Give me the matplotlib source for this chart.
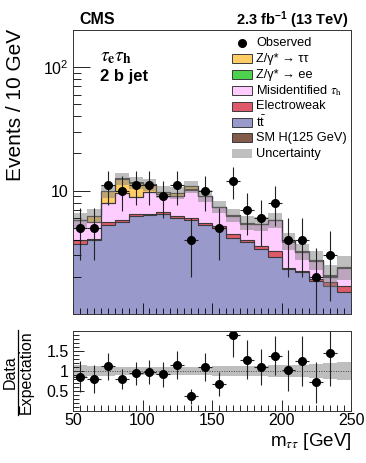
import numpy as np
import matplotlib
matplotlib.use("Agg")
import matplotlib.pyplot as plt
from matplotlib.patches import Rectangle
from matplotlib.lines import Line2D
from matplotlib.ticker import FixedLocator, FixedFormatter, MultipleLocator, NullFormatter, LogLocator

plt.rcParams['font.family'] = ['Liberation Sans', 'DejaVu Sans']
plt.rcParams['mathtext.fontset'] = 'custom'
plt.rcParams['mathtext.rm'] = 'Liberation Sans'
plt.rcParams['mathtext.it'] = 'Liberation Sans:italic'
plt.rcParams['mathtext.bf'] = 'Liberation Sans:bold'

# ---------------- data ----------------
bin_edges = np.arange(50, 251, 10)
observed = [5, 5, 11, 10, 11, 11, 9, 11, 4, 10, 5, 12, 7, 6, 8, 4, 4, 2, 3, 0]
ttbar = [3.72, 3.96, 5.24, 5.58, 6.20, 6.33, 6.44, 6.00, 5.76, 5.24,
         4.95, 4.16, 3.83, 3.39, 2.89, 2.33, 2.18, 1.85, 1.68, 1.51]
electroweak = [0.28, 0.06, 0.34, 0.18, 0.24, 0.19, 0.21, 0.20, 0.18, 0.23,
               0.25, 0.27, 0.13, 0.15, 0.35, 0.04, 0.05, 0.06, 0.12, 0.17]
misid = [1.75, 1.53, 2.28, 3.74, 2.46, 3.26, 2.65, 2.90, 4.26, 3.53,
         2.10, 1.82, 1.44, 1.81, 2.51, 1.48, 0.92, 0.79, 0.20, 0.67]
zee = [0.01, 0.01, 0.02, 0.03, 0.03, 0.02, 0.01, 0.01, 0.01, 0.01,
       0.01, 0.0, 0.0, 0.0, 0.0, 0.0, 0.0, 0.0, 0.0, 0.0]
ztautau = [0.04, 0.69, 1.98, 2.97, 2.67, 1.38, 0.49, 0.49, 0.59, 0.09,
           0.09, 0.05, 0.05, 0.05, 0.05, 0.05, 0.05, 0.05, 0.05, 0.05]
smh = [0.01, 0.01, 0.02, 0.03, 0.03, 0.03, 0.02, 0.02, 0.02, 0.02,
       0.01, 0.01, 0.01, 0.01, 0.01, 0.01, 0.01, 0.01, 0.01, 0.01]
rel_unc = [0.14, 0.13, 0.12, 0.11, 0.11, 0.11, 0.11, 0.11, 0.11, 0.11,
           0.12, 0.12, 0.13, 0.13, 0.14, 0.15, 0.15, 0.17, 0.20, 0.22]

# (legend label, values, colour, use serif math)
components = [
    ("t$\\bar{\\mathrm{t}}$", ttbar, "#9999CC", False),
    ("Electroweak", electroweak, "#DE5A6A", False),
    ("Misidentified $\\tau_{\\mathrm{h}}$", misid, "#FFCCFF", True),
    ("Z/γ* → ee", zee, "#4CD24C", False),
    ("Z/γ* → ττ", ztautau, "#FFCC66", False),
    ("SM H(125 GeV)", smh, "#845A4B", False),
]

# ---------------- figure ----------------
W, H = 366, 463
fig = plt.figure(figsize=(W / 100, H / 100), dpi=100)

def fx(px):
    return px / W

def fy(py):
    return 1 - py / H

def ax_rect(x0, y0, x1, y1):
    return [x0 / W, 1 - y1 / H, (x1 - x0) / W, (y1 - y0) / H]

ax = fig.add_axes(ax_rect(73, 30, 351, 314))
rax = fig.add_axes(ax_rect(73, 331, 351, 411))

edges = bin_edges
centers = 0.5 * (edges[:-1] + edges[1:])
obs = np.array(observed, dtype=float)

ymin = 1.0
floor = ymin * 0.5
cum = np.zeros(len(centers))
for name, vals, col, _ in components:
    top = cum + np.array(vals)
    ax.stairs(np.maximum(top, floor), edges, baseline=np.maximum(cum, floor),
              fill=True, color=col, lw=0)
    cum = top
cum = np.zeros(len(centers))
for name, vals, col, _ in components:
    cum = cum + np.array(vals)
    ax.stairs(cum, edges, baseline=None, color="#3a3a3a", lw=0.8)

total = cum
unc = np.array(rel_unc)
ax.stairs(total * (1 + unc), edges, baseline=total * (1 - unc), fill=True,
          color="#7f7f7f", alpha=0.5, lw=0)

mask = obs > 0
ax.errorbar(centers[mask], obs[mask], yerr=np.sqrt(obs[mask]), xerr=5,
            fmt='o', color='black', ms=5.5, elinewidth=0.8, ecolor='#222222', capsize=0)

ax.set_yscale('log')
ax.set_xlim(50, 250)
ax.set_ylim(ymin, 200)
ax.yaxis.set_major_locator(FixedLocator([10, 100]))
ax.yaxis.set_major_formatter(FixedFormatter(["10", "$10^{2}$"]))
ax.yaxis.set_minor_locator(LogLocator(base=10, subs=np.arange(2, 10)))
ax.yaxis.set_minor_formatter(NullFormatter())
ax.xaxis.set_major_locator(MultipleLocator(50))
ax.xaxis.set_minor_locator(MultipleLocator(5))
ax.tick_params(axis='x', labelbottom=False)
for a in (ax, rax):
    a.tick_params(which='both', direction='in', top=False, right=False, labelsize=11.5, pad=3)
    a.tick_params(axis='x', which='major', length=8, width=0.6)
    a.tick_params(axis='x', which='minor', length=4, width=0.6)
    for s in a.spines.values():
        s.set_linewidth(0.7)
        s.set_color('#333333')
ax.tick_params(axis='y', which='major', length=12, width=0.6)
ax.tick_params(axis='y', which='minor', length=6, width=0.6)

# ratio
ratio = np.where(mask, obs / total, np.nan)
rerr = np.where(mask, np.sqrt(obs) / total, np.nan)
rax.stairs(1 + unc, edges, baseline=1 - unc, fill=True, color="#7f7f7f", alpha=0.5, lw=0)
rax.axhline(1, color='#444444', lw=0.7, ls=(0, (1, 1.5)))
rax.errorbar(centers[mask], ratio[mask], yerr=rerr[mask], xerr=5, fmt='o', color='black',
             ms=5.5, elinewidth=0.8, ecolor='#222222', capsize=0)
rax.set_xlim(50, 250)
rax.set_ylim(0, 2)
rax.xaxis.set_major_locator(MultipleLocator(50))
rax.xaxis.set_minor_locator(MultipleLocator(5))
rax.yaxis.set_major_locator(FixedLocator([0.5, 1, 1.5]))
rax.yaxis.set_major_formatter(FixedFormatter(["0.5", "1", "1.5"]))
rax.yaxis.set_minor_locator(MultipleLocator(0.1))
rax.tick_params(axis='y', which='major', length=8, width=0.6)
rax.tick_params(axis='y', which='minor', length=4, width=0.6)
rax.tick_params(axis='x', pad=1.5)

# texts
fig.text(fx(79), fy(20), "CMS", fontsize=11.5, fontweight='bold', ha='left', va='center')
fig.text(fx(349), fy(20), "2.3 fb$^{\\mathbf{-1}}$ (13 TeV)", fontsize=10.5,
         fontweight='bold', ha='right', va='center')
fig.text(fx(100), fy(57), "$\\tau_{\\mathbf{e}}\\tau_{\\mathbf{h}}$", fontsize=14,
         ha='left', va='center', math_fontfamily='stix')
fig.text(fx(100), fy(77), "2 b jet", fontsize=12, fontweight='bold', ha='left', va='center')

fig.text(fx(16), fy(29), "Events / 10 GeV", fontsize=15, rotation=90, ha='center', va='top')
fig.text(fx(351), fy(441), "m$_{\\tau\\tau}$ [GeV]", fontsize=13.5, ha='right', va='center',
         math_fontfamily='stix')

# ratio y label as fraction
fig.text(fx(10), fy(372), "Data", fontsize=11.5, rotation=90, ha='center', va='center')
fig.text(fx(26), fy(372), "Expectation", fontsize=11.5, rotation=90, ha='center', va='center')
fig.add_artist(Line2D([fx(17.5), fx(17.5)], [fy(330), fy(415)], color='black', lw=0.9,
                      transform=fig.transFigure))

# legend (drawn manually, fixed row pitch)
row_y = 43
pitch = 15.8
box_x0, box_x1, box_h = 232, 252, 9
text_x = 256
fig.add_artist(Line2D([fx(242)], [fy(row_y)], marker='o', ls='none', color='black', ms=5.5,
                      transform=fig.transFigure))
fig.text(fx(text_x), fy(row_y), "Observed", fontsize=9.2, ha='left', va='center')
order = [4, 3, 2, 1, 0, 5]
for k, i in enumerate(order):
    name, vals, col, serif = components[i]
    yc = row_y + pitch * (k + 1)
    fig.add_artist(Rectangle((fx(box_x0), fy(yc + box_h / 2)), fx(box_x1) - fx(box_x0),
                             box_h / H, facecolor=col, edgecolor='#3a3a3a', lw=0.7,
                             transform=fig.transFigure))
    kw = {'math_fontfamily': 'stix'} if serif else {}
    fig.text(fx(text_x), fy(yc), name, fontsize=9.2, ha='left', va='center', **kw)
yc = row_y + pitch * 7
fig.add_artist(Rectangle((fx(box_x0), fy(yc + box_h / 2)), fx(box_x1) - fx(box_x0),
                         box_h / H, facecolor='#bfbfbf', edgecolor='none',
                         transform=fig.transFigure))
fig.text(fx(text_x), fy(yc), "Uncertainty", fontsize=9.2, ha='left', va='center')

fig.savefig("out.png", dpi=100)
